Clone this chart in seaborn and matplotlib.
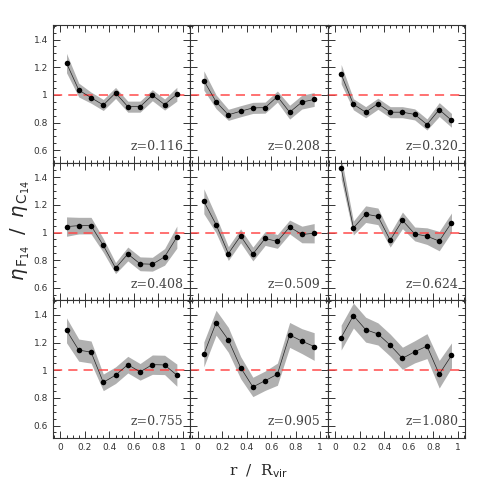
import numpy as np
import pandas as pd
import matplotlib
matplotlib.use("Agg")
import matplotlib.pyplot as plt
from matplotlib.ticker import MultipleLocator, FuncFormatter
import seaborn as sns

# radial bins (r / R_vir)
r_bins = [0.05, 0.15, 0.25, 0.35, 0.45, 0.55, 0.65, 0.75, 0.85, 0.95]

redshifts = ["0.116", "0.208", "0.320", "0.408", "0.509", "0.624", "0.755", "0.905", "1.080"]

eta_z0116 = [1.23, 1.035, 0.98, 0.927, 1.014, 0.915, 0.915, 0.998, 0.93, 1.005]
eta_z0208 = [1.104, 0.95, 0.856, 0.882, 0.906, 0.908, 0.988, 0.875, 0.948, 0.967]
eta_z0320 = [1.15, 0.932, 0.875, 0.936, 0.875, 0.875, 0.859, 0.786, 0.894, 0.816]
eta_z0408 = [1.043, 1.05, 1.05, 0.907, 0.743, 0.845, 0.774, 0.771, 0.824, 0.967]
eta_z0509 = [1.226, 1.057, 0.848, 0.976, 0.845, 0.957, 0.936, 1.04, 0.986, 0.995]
eta_z0624 = [1.467, 1.033, 1.133, 1.117, 0.945, 1.088, 0.99, 0.974, 0.938, 1.071]
eta_z0755 = [1.288, 1.145, 1.131, 0.912, 0.964, 1.04, 0.988, 1.04, 1.038, 0.964]
eta_z0905 = [1.114, 1.343, 1.219, 1.019, 0.879, 0.924, 0.971, 1.255, 1.21, 1.171]
eta_z1080 = [1.236, 1.395, 1.293, 1.262, 1.181, 1.086, 1.133, 1.174, 0.971, 1.107]

err_z0116 = [0.07, 0.05, 0.04, 0.04, 0.04, 0.04, 0.04, 0.04, 0.04, 0.05]
err_z0208 = [0.07, 0.05, 0.04, 0.04, 0.04, 0.04, 0.04, 0.05, 0.05, 0.05]
err_z0320 = [0.07, 0.04, 0.04, 0.04, 0.04, 0.04, 0.04, 0.04, 0.05, 0.05]
err_z0408 = [0.07, 0.06, 0.06, 0.05, 0.04, 0.05, 0.05, 0.05, 0.06, 0.08]
err_z0509 = [0.09, 0.06, 0.05, 0.05, 0.05, 0.05, 0.05, 0.05, 0.06, 0.07]
err_z0624 = [0.08, 0.05, 0.06, 0.06, 0.05, 0.06, 0.05, 0.06, 0.07, 0.07]
err_z0755 = [0.09, 0.08, 0.08, 0.06, 0.06, 0.06, 0.06, 0.07, 0.07, 0.08]
err_z0905 = [0.09, 0.09, 0.09, 0.08, 0.07, 0.07, 0.08, 0.09, 0.09, 0.10]
err_z1080 = [0.09, 0.09, 0.09, 0.08, 0.08, 0.08, 0.08, 0.09, 0.10, 0.09]

etas = [eta_z0116, eta_z0208, eta_z0320, eta_z0408, eta_z0509,
        eta_z0624, eta_z0755, eta_z0905, eta_z1080]
errs = [err_z0116, err_z0208, err_z0320, err_z0408, err_z0509,
        err_z0624, err_z0755, err_z0905, err_z1080]

rows = []
for z, eta, err in zip(redshifts, etas, errs):
    for r, e, s in zip(r_bins, eta, err):
        rows.append({"z": z, "r": r, "eta": e, "lo": e - s, "hi": e + s})
df = pd.DataFrame(rows)

sns.set_style("ticks")
plt.rcParams["font.family"] = ["DejaVu Sans"]
plt.rcParams["xtick.direction"] = "in"
plt.rcParams["ytick.direction"] = "in"

fig, axes = plt.subplots(3, 3, figsize=(4.91, 4.91), dpi=100, sharex=True, sharey=True)
fig.subplots_adjust(left=0.108, right=0.947, top=0.949, bottom=0.108, hspace=0, wspace=0)

fmt = FuncFormatter(lambda v, p: "%g" % round(v, 2))

for ax, z in zip(axes.flat, redshifts):
    sub = df[df["z"] == z]
    ax.fill_between(sub["r"], sub["lo"], sub["hi"], color="#b0b0b0", lw=0, zorder=1)
    ax.axhline(1.0, color="#ff4a4a", ls=(0, (6, 4)), lw=1.1, zorder=2)
    sns.lineplot(data=sub, x="r", y="eta", ax=ax, color="#222222", linewidth=0.5,
                 marker="o", markersize=4, markeredgewidth=0, markerfacecolor="black",
                 zorder=3)
    ax.text(0.95, 0.07, "z=" + z, transform=ax.transAxes, ha="right", va="bottom",
            fontsize=9, family="DejaVu Serif", color="#444444")
    ax.set_xlim(-0.06, 1.06)
    ax.set_ylim(0.51, 1.505)
    ax.xaxis.set_major_locator(MultipleLocator(0.2))
    ax.xaxis.set_minor_locator(MultipleLocator(0.05))
    ax.yaxis.set_major_locator(MultipleLocator(0.2))
    ax.yaxis.set_minor_locator(MultipleLocator(0.05))
    ax.xaxis.set_major_formatter(fmt)
    ax.yaxis.set_major_formatter(fmt)
    ax.tick_params(which="both", top=True, right=True, labelsize=6.5, colors="#333333",
                   width=0.7)
    ax.tick_params(which="major", length=5)
    ax.tick_params(which="minor", length=2.5)
    for sp in ax.spines.values():
        sp.set_linewidth(0.8)
        sp.set_color("#333333")
    ax.set_xlabel("")
    ax.set_ylabel("")

fig.text(0.042, 0.53, r"$\eta_{\,\mathrm{F}_{14}}\;\;/\;\;\eta_{\,\mathrm{C}_{14}}$",
         rotation=90, ha="center", va="center", fontsize=14, family="DejaVu Serif")
fig.text(0.527, 0.04, r"r  /  R$_{\mathrm{vir}}$", ha="center", va="center",
         fontsize=11, family="DejaVu Serif")

fig.savefig("out.png", dpi=100)
